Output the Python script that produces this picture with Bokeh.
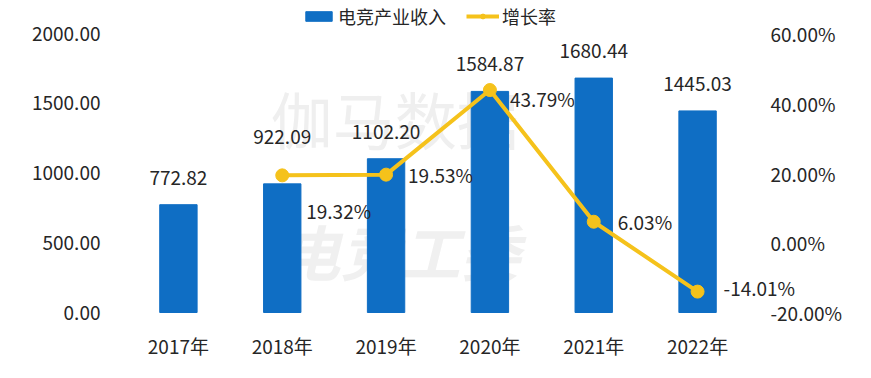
from bokeh.plotting import figure
from bokeh.models import (ColumnDataSource, Range1d, Legend, LegendItem,
                          NumeralTickFormatter, FixedTicker, Label, LabelSet)
from bokeh.core.properties import value
from bokeh.embed import file_html
from bokeh.resources import INLINE

years = ["2017年", "2018年", "2019年", "2020年", "2021年", "2022年"]
revenue = [772.82, 922.09, 1102.20, 1584.87, 1680.44, 1445.03]
growth_years = ["2018年", "2019年", "2020年", "2021年", "2022年"]
growth = [19.32, 19.53, 43.79, 6.03, -14.01]
left_ticks = [0, 500, 1000, 1500, 2000]
right_ticks = [-20, 0, 20, 40, 60]

FONT = "Noto Sans CJK SC"
BLUE = "#0f6ec4"
YELLOW = "#f5c21b"
TXT = "#262626"
FS = "19px"

xpos = {y: i for i, y in enumerate(years)}
n = len(years)

# frame extended beyond the value area so that legend, secondary labels and
# outer data labels are not clipped
PX = 2000 / 279          # revenue units per pixel
PXP = 80 / 279           # percent units per pixel
EXT_TOP, EXT_BOT = 33, 14
p = figure(width=871, height=378,
           x_range=Range1d(-0.5, -0.5 + (871 - 126) / 103.83),
           y_range=Range1d(-EXT_BOT * PX, 2000 + EXT_TOP * PX),
           output_backend="svg", toolbar_location=None,
           min_border_left=126, min_border_right=0, min_border_top=0,
           min_border_bottom=378 - 312 - EXT_BOT)
p.extra_y_ranges = {"pct": Range1d(-20 - EXT_BOT * PXP, 60 + EXT_TOP * PXP)}
p.outline_line_color = None
p.xgrid.grid_line_color = None
p.ygrid.grid_line_color = None

# faint watermark
p.add_layout(Label(x=0.89, y=1720, text="伽马数据", text_font=FONT, text_font_size="62px",
                   text_color="#efefef", text_baseline="top", level="underlay"))
p.add_layout(Label(x=0.98, y=767, text="电竞工委", text_font=FONT, text_font_size="60px",
                   text_font_style="bold italic", text_color="#f0f0f0", text_baseline="top",
                   level="underlay"))

bar_src = ColumnDataSource(dict(x=[xpos[y] for y in years], y=revenue))
bars = p.vbar(x="x", top="y", width=0.36, source=bar_src, color=BLUE)
bar_label_offsets = [20, 40, 20, 20, 20, 20]
for yr, v, oy in zip(years, revenue, bar_label_offsets):
    src = ColumnDataSource(dict(x=[xpos[yr]], y=[v], lab=[f"{v:.2f}"]))
    p.add_layout(LabelSet(x="x", y="y", text="lab", source=src, text_align="center",
                          text_baseline="bottom", y_offset=oy, text_font=value(FONT),
                          text_font_size=FS, text_color=TXT))

line_src = ColumnDataSource(dict(x=[xpos[y] for y in growth_years], y=growth))
ln = p.line(x="x", y="y", source=line_src, y_range_name="pct", line_color=YELLOW, line_width=4)
sc = p.scatter(x="x", y="y", source=line_src, y_range_name="pct", size=13,
               fill_color=YELLOW, line_color=YELLOW)

label_offsets = [(24, -35), (22, 0), (20, -8), (24, 0), (26, 4)]
for yr, g, (ox, oy) in zip(growth_years, growth, label_offsets):
    src = ColumnDataSource(dict(x=[xpos[yr]], y=[g], lab=[f"{g:.2f}%"]))
    p.add_layout(LabelSet(x="x", y="y", text="lab", source=src, y_range_name="pct",
                          x_offset=ox, y_offset=oy, text_align="left", text_baseline="middle",
                          text_font=value(FONT), text_font_size=FS, text_color=TXT))

# secondary (percent) axis labels, just right of the last category
rt_src = ColumnDataSource(dict(x=[n - 0.5] * len(right_ticks), y=right_ticks,
                               lab=[f"{t:.2f}%" for t in right_ticks]))
p.add_layout(LabelSet(x="x", y="y", text="lab", source=rt_src, y_range_name="pct",
                      x_offset=21, text_align="left", text_baseline="middle",
                      text_font=value(FONT), text_font_size=FS, text_color=TXT))

# axes
p.yaxis[0].ticker = FixedTicker(ticks=left_ticks)
p.yaxis[0].formatter = NumeralTickFormatter(format="0.00")
p.xaxis[0].ticker = FixedTicker(ticks=list(range(n)))
p.xaxis[0].major_label_overrides = {i: y for i, y in enumerate(years)}

for ax in (p.yaxis[0], p.xaxis[0]):
    ax.axis_line_color = None
    ax.major_tick_line_color = None
    ax.minor_tick_line_color = None
    ax.major_tick_out = 0
    ax.major_tick_in = 0
    ax.minor_tick_out = 0
    ax.major_label_text_font = FONT
    ax.major_label_text_font_size = FS
    ax.major_label_text_color = TXT
p.yaxis[0].major_label_standoff = 26
p.xaxis[0].major_label_standoff = 5

legend = Legend(items=[LegendItem(label="电竞产业收入", renderers=[bars]),
                       LegendItem(label="增长率", renderers=[ln, sc])],
                orientation="horizontal", location=(176, 283 + EXT_BOT),
                label_text_font=FONT, label_text_font_size="18px", label_text_color=TXT,
                glyph_width=33, glyph_height=12, spacing=20, padding=2, margin=0,
                border_line_color=None, background_fill_alpha=0, label_standoff=3)
p.add_layout(legend)

open("out.html", "w").write(file_html(p, INLINE))
